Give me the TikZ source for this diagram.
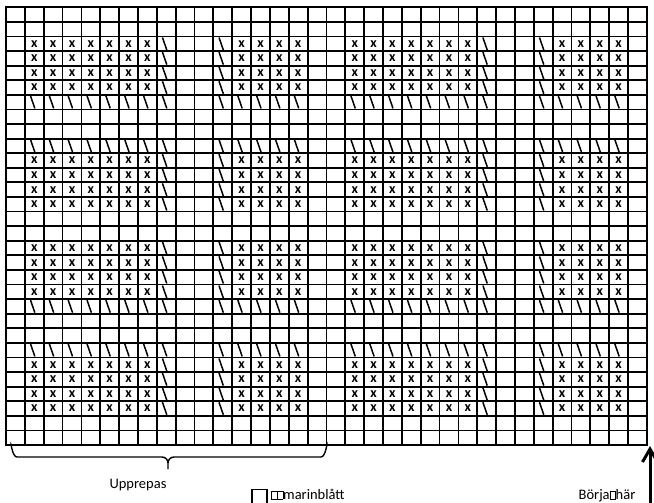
\documentclass[tikz,border=0pt]{standalone}
\usepackage{fontspec}
\setmainfont{Carlito}
\usetikzlibrary{arrows.meta}

\newcommand{\tofu}{{\fboxsep=0pt\fboxrule=0.5pt\fbox{\rule{0pt}{8pt}\hspace{5pt}}}}

\begin{document}
\begin{tikzpicture}[
    x=1pt, y=-1pt,
    gridline/.style={line width=1.8pt, line cap=rect},
    stitch/.style={font=\fontsize{14}{14}\selectfont\bfseries, inner sep=0pt},
    slash/.style={line width=1.5pt},
    chartlabel/.style={font=\fontsize{14.5}{16}\selectfont, inner sep=0pt},
    bracket/.style={line width=1.4pt},
    arrow/.style={-{Straight Barb[length=13pt, width=15pt]}, line width=3pt}
]
\useasboundingbox (0,0) rectangle (654,503);

% chart, one unit = one stitch
\begin{scope}[shift={(6,7.3)}, x=18.85pt, y=-14.59pt]
\foreach \c in {0,...,34} \draw[gridline] (\c,0) -- (\c,30);
\foreach \r in {0,...,30} \draw[gridline] (0,\r) -- (34,\r);

% x stitches, pattern repeats every 17 columns
\foreach \p in {0,17} {
    \foreach \r in {3,4,5,6,11,12,13,14,17,18,19,20,25,26,27,28} {
        \foreach \c in {2,3,4,5,6,7,8,13,14,15,16}
            \node[stitch] (x-\r-\the\numexpr\c+\p\relax) at (\c+\p-0.5,\r-0.5) {x};
        % slant next to each x block
        \foreach \c in {9,12}
            \draw[slash] (\c+\p-0.70,\r-0.93) -- (\c+\p-0.47,\r-0.07);
    }
    % slant rows
    \foreach \r in {7,10,21,24} {
        \foreach \c in {2,3,4,5,6,7,8,9,12,13,14,15,16}
            \draw[slash] (\c+\p-0.70,\r-0.93) -- (\c+\p-0.47,\r-0.07);
    }
}
\end{scope}

% repeat bracket
\draw[bracket] (11,446) to[out=90,in=180] (17,457) -- (162,457)
    to[out=0,in=90] (168,463) -- (168,469)
    (168,463) to[out=90,in=180] (174,457) -- (321,457)
    to[out=0,in=90] (327,446);
\node[chartlabel, anchor=base] (repeat) at (138,488) {Upprepas};

% colour key
\node[draw, line width=1.3pt, minimum width=15pt, minimum height=15pt, inner sep=0pt] (colorkey) at (259.5,497) {};
\node[chartlabel, anchor=base west] (colorname) at (271,499) {\tofu\tofu marinblått};

% start here
\node[chartlabel, anchor=base] (startlabel) at (607,499) {Börja\tofu{}här};
\coordinate (starttail) at (650,506);
\coordinate (starttip) at (650,446);
\draw[arrow] (starttail) -- (starttip);

\end{tikzpicture}
\end{document}
